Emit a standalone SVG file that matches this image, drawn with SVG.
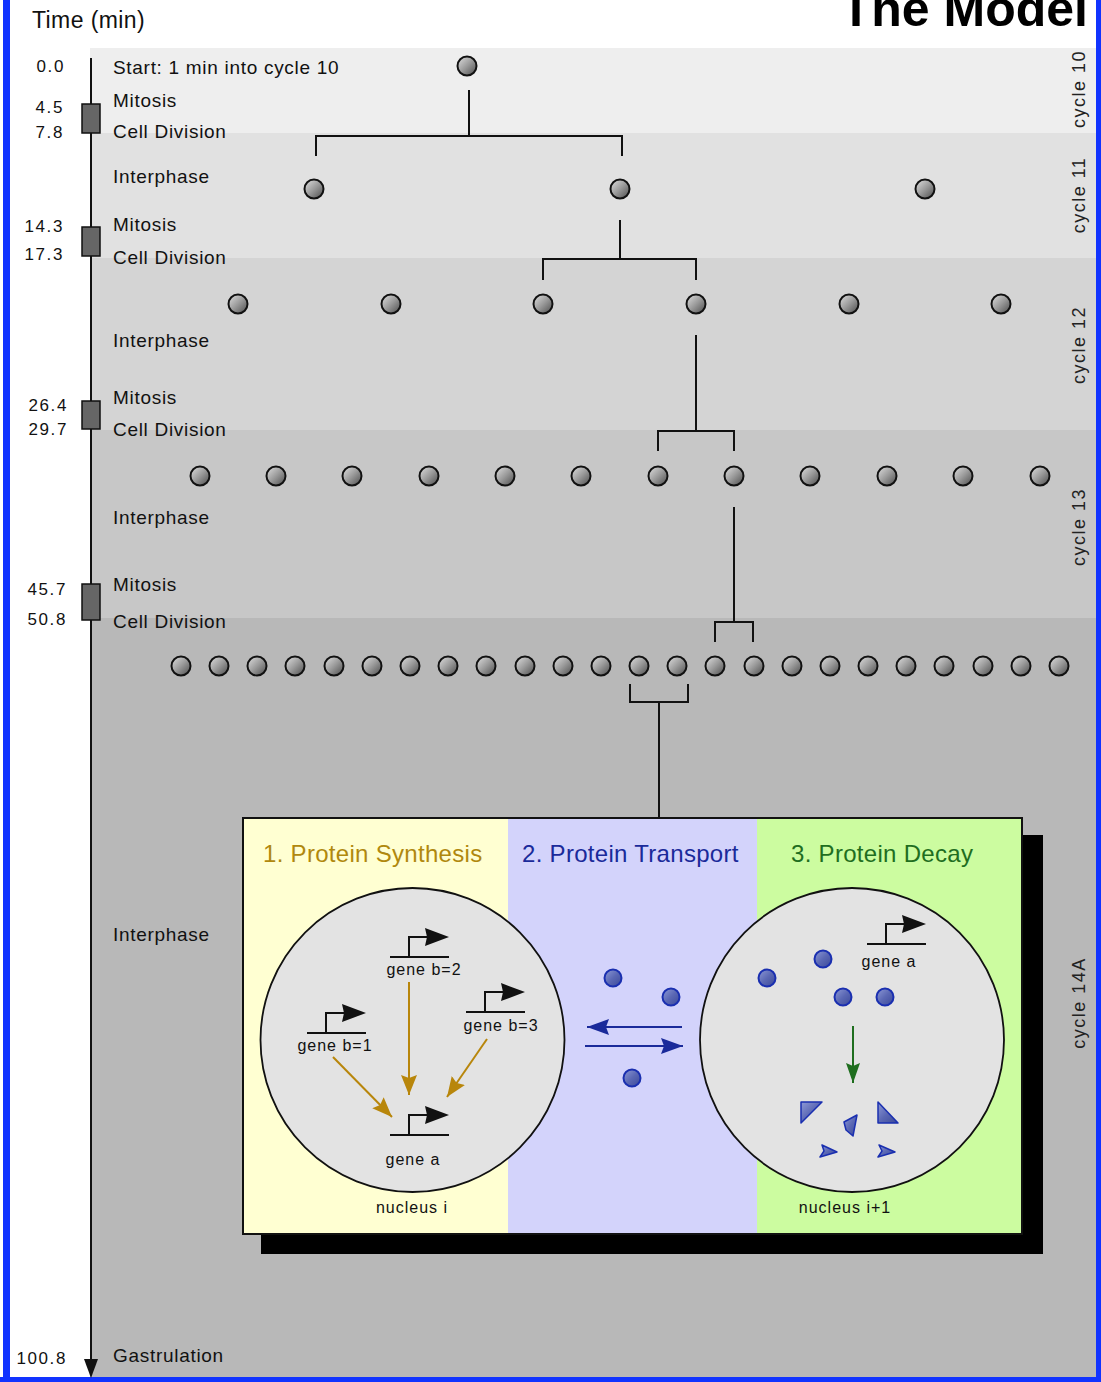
<svg xmlns="http://www.w3.org/2000/svg" xmlns:xlink="http://www.w3.org/1999/xlink" width="1101" height="1382" viewBox="0 0 1101 1382">
  <style>
    .lbl { font-family: "Liberation Sans", Arial, sans-serif; font-size: 19px; letter-spacing: 0.7px; fill: #111; }
    .time { font-family: "Liberation Sans", Arial, sans-serif; font-size: 17px; letter-spacing: 1.6px; fill: #111; text-anchor: end; }
    .cyc { font-family: "Liberation Sans", Arial, sans-serif; font-size: 18px; letter-spacing: 1.5px; fill: #222; text-anchor: middle; }
    .gene { font-family: "Liberation Sans", Arial, sans-serif; font-size: 16px; letter-spacing: 1px; fill: #111; text-anchor: middle; }
    .head { font-family: "Liberation Sans", Arial, sans-serif; font-size: 24px; letter-spacing: 0.3px; }
    .tree { fill: none; stroke: #111; stroke-width: 2; }
    .axbox { fill: #666; stroke: #111; stroke-width: 1.5; }
    .cellc { fill: url(#cellGrad); stroke: #111; stroke-width: 2; }
    .prot { fill: url(#protGrad); stroke: #1a2fb0; stroke-width: 2; }
    .frag { fill: url(#protGrad); stroke: #1a2fb0; stroke-width: 1.5; stroke-linejoin: round; }
    .nuc { fill: #e3e3e3; stroke: #111; stroke-width: 1.8; }
    .gold { stroke: #b8860b; stroke-width: 2; fill: none; }
    .blue { stroke: #1a2a9a; stroke-width: 2; fill: none; }
    .green { stroke: #1f6e1f; stroke-width: 2; fill: none; }
  </style>
  <defs>
    <linearGradient id="cellGrad" x1="0" y1="0" x2="1" y2="1">
      <stop offset="0" stop-color="#e2e2e2"/>
      <stop offset="0.5" stop-color="#9a9a9a"/>
      <stop offset="1" stop-color="#4a4a4a"/>
    </linearGradient>
    <linearGradient id="protGrad" x1="0" y1="0" x2="1" y2="1">
      <stop offset="0" stop-color="#8e9ad6"/>
      <stop offset="0.5" stop-color="#5b68b4"/>
      <stop offset="1" stop-color="#3a4898"/>
    </linearGradient>
    <circle id="cell" r="9.5" class="cellc"/>
    <circle id="prot" r="8.5" class="prot"/>
    <!-- promoter glyph: base line, stem and arrow flag -->
    <g id="promoter">
      <path d="M0,0 H59 M19,0 V-20 H38" fill="none" stroke="#111" stroke-width="2"/>
      <path d="M35,-29 L59,-20 L35,-11 L37,-20 Z" fill="#111"/>
    </g>
    <marker id="goldHead" markerUnits="userSpaceOnUse" markerWidth="22" markerHeight="18" refX="20" refY="9" orient="auto">
      <path d="M0,1 L20,9 L0,17 L3,9 Z" fill="#b8860b"/>
    </marker>
    <marker id="blueHead" markerUnits="userSpaceOnUse" markerWidth="24" markerHeight="18" refX="22" refY="9" orient="auto">
      <path d="M0,1 L22,9 L0,17 L3,9 Z" fill="#1a2a9a"/>
    </marker>
    <marker id="greenHead" markerUnits="userSpaceOnUse" markerWidth="22" markerHeight="18" refX="20" refY="9" orient="auto">
      <path d="M0,2 L20,9 L0,16 L3,9 Z" fill="#1f6e1f"/>
    </marker>
  </defs>

  <!-- page and blue frame -->
  <rect x="0" y="0" width="1101" height="1382" fill="#ffffff"/>
  <rect x="3" y="0" width="7" height="1382" fill="#1133ff"/>
  <rect x="1096" y="0" width="5" height="1382" fill="#1133ff"/>
  <rect x="0" y="1377" width="1101" height="5" fill="#1133ff"/>

  <!-- cycle bands -->
  <g id="bands">
    <rect x="90" y="48" width="1006" height="85" fill="#eeeeee"/>
    <rect x="90" y="133" width="1006" height="125" fill="#e1e1e1"/>
    <rect x="90" y="258" width="1006" height="172" fill="#d4d4d4"/>
    <rect x="90" y="430" width="1006" height="188" fill="#c7c7c7"/>
    <rect x="90" y="618" width="1006" height="759" fill="#b8b8b8"/>
  </g>

  <!-- headings -->
  <text x="32" y="28" font-family="Liberation Sans, Arial, sans-serif" font-size="23" letter-spacing="0.4" fill="#111">Time (min)</text>
  <text x="1088" y="26" font-family="Liberation Sans, Arial, sans-serif" font-size="50" font-weight="bold" fill="#000" text-anchor="end">The Model</text>

  <!-- time axis -->
  <g id="time-axis">
    <line x1="91" y1="58" x2="91" y2="1362" stroke="#111" stroke-width="2"/>
    <path d="M84,1359 L98,1359 L91,1378 Z" fill="#111"/>
    <rect class="axbox" x="82" y="104" width="18" height="29"/>
    <rect class="axbox" x="82" y="227" width="18" height="29"/>
    <rect class="axbox" x="82" y="401" width="18" height="28"/>
    <rect class="axbox" x="82" y="584" width="18" height="36"/>
    <text class="time" x="65" y="72">0.0</text>
    <text class="time" x="64" y="113">4.5</text>
    <text class="time" x="64" y="138">7.8</text>
    <text class="time" x="64" y="232">14.3</text>
    <text class="time" x="64" y="260">17.3</text>
    <text class="time" x="68" y="411">26.4</text>
    <text class="time" x="68" y="435">29.7</text>
    <text class="time" x="67" y="595">45.7</text>
    <text class="time" x="67" y="625">50.8</text>
    <text class="time" x="67" y="1364">100.8</text>
  </g>

  <!-- phase labels -->
  <g id="phase-labels">
    <text class="lbl" x="113" y="74">Start: 1 min into cycle 10</text>
    <text class="lbl" x="113" y="107">Mitosis</text>
    <text class="lbl" x="113" y="138">Cell Division</text>
    <text class="lbl" x="113" y="183">Interphase</text>
    <text class="lbl" x="113" y="231">Mitosis</text>
    <text class="lbl" x="113" y="264">Cell Division</text>
    <text class="lbl" x="113" y="347">Interphase</text>
    <text class="lbl" x="113" y="404">Mitosis</text>
    <text class="lbl" x="113" y="436">Cell Division</text>
    <text class="lbl" x="113" y="524">Interphase</text>
    <text class="lbl" x="113" y="591">Mitosis</text>
    <text class="lbl" x="113" y="628">Cell Division</text>
    <text class="lbl" x="113" y="941">Interphase</text>
    <text class="lbl" x="113" y="1362">Gastrulation</text>
  </g>

  <!-- cycle labels -->
  <g id="cycle-labels">
    <text class="cyc" transform="translate(1085,89) rotate(-90)">cycle 10</text>
    <text class="cyc" transform="translate(1085,195) rotate(-90)">cycle 11</text>
    <text class="cyc" transform="translate(1085,345) rotate(-90)">cycle 12</text>
    <text class="cyc" transform="translate(1085,527) rotate(-90)">cycle 13</text>
    <text class="cyc" transform="translate(1085,1003) rotate(-90)">cycle 14A</text>
  </g>

  <!-- lineage connectors -->
  <g id="connectors" class="tree">
    <path d="M469,90 V136 M316,156 V136 H622 V156"/>
    <path d="M620,220 V259 M543,280 V259 H696 V280"/>
    <path d="M696,335 V431 M658,451 V431 H734 V451"/>
    <path d="M734,507 V622 M715,642 V622 H753 V642"/>
    <path d="M630,684 V702 H688 V684 M659,702 V817"/>
  </g>

  <!-- nuclei, cycle 10 -->
  <g id="c10-1"><use xlink:href="#cell" x="467" y="66"/></g>
  <!-- nuclei, cycle 11 -->
  <g id="c11-1"><use xlink:href="#cell" x="314" y="189"/></g>
  <g id="c11-2"><use xlink:href="#cell" x="620" y="189"/></g>
  <g id="c11-3"><use xlink:href="#cell" x="925" y="189"/></g>
  <!-- nuclei, cycle 12 -->
  <g id="c12-1"><use xlink:href="#cell" x="238" y="304"/></g>
  <g id="c12-2"><use xlink:href="#cell" x="391" y="304"/></g>
  <g id="c12-3"><use xlink:href="#cell" x="543" y="304"/></g>
  <g id="c12-4"><use xlink:href="#cell" x="696" y="304"/></g>
  <g id="c12-5"><use xlink:href="#cell" x="849" y="304"/></g>
  <g id="c12-6"><use xlink:href="#cell" x="1001" y="304"/></g>
  <!-- nuclei, cycle 13 -->
  <g id="c13-1"><use xlink:href="#cell" x="200" y="476"/></g>
  <g id="c13-2"><use xlink:href="#cell" x="276" y="476"/></g>
  <g id="c13-3"><use xlink:href="#cell" x="352" y="476"/></g>
  <g id="c13-4"><use xlink:href="#cell" x="429" y="476"/></g>
  <g id="c13-5"><use xlink:href="#cell" x="505" y="476"/></g>
  <g id="c13-6"><use xlink:href="#cell" x="581" y="476"/></g>
  <g id="c13-7"><use xlink:href="#cell" x="658" y="476"/></g>
  <g id="c13-8"><use xlink:href="#cell" x="734" y="476"/></g>
  <g id="c13-9"><use xlink:href="#cell" x="810" y="476"/></g>
  <g id="c13-10"><use xlink:href="#cell" x="887" y="476"/></g>
  <g id="c13-11"><use xlink:href="#cell" x="963" y="476"/></g>
  <g id="c13-12"><use xlink:href="#cell" x="1040" y="476"/></g>
  <!-- nuclei, cycle 14 -->
  <g id="c14-1"><use xlink:href="#cell" x="181" y="666"/></g>
  <g id="c14-2"><use xlink:href="#cell" x="219" y="666"/></g>
  <g id="c14-3"><use xlink:href="#cell" x="257" y="666"/></g>
  <g id="c14-4"><use xlink:href="#cell" x="295" y="666"/></g>
  <g id="c14-5"><use xlink:href="#cell" x="334" y="666"/></g>
  <g id="c14-6"><use xlink:href="#cell" x="372" y="666"/></g>
  <g id="c14-7"><use xlink:href="#cell" x="410" y="666"/></g>
  <g id="c14-8"><use xlink:href="#cell" x="448" y="666"/></g>
  <g id="c14-9"><use xlink:href="#cell" x="486" y="666"/></g>
  <g id="c14-10"><use xlink:href="#cell" x="525" y="666"/></g>
  <g id="c14-11"><use xlink:href="#cell" x="563" y="666"/></g>
  <g id="c14-12"><use xlink:href="#cell" x="601" y="666"/></g>
  <g id="c14-13"><use xlink:href="#cell" x="639" y="666"/></g>
  <g id="c14-14"><use xlink:href="#cell" x="677" y="666"/></g>
  <g id="c14-15"><use xlink:href="#cell" x="715" y="666"/></g>
  <g id="c14-16"><use xlink:href="#cell" x="754" y="666"/></g>
  <g id="c14-17"><use xlink:href="#cell" x="792" y="666"/></g>
  <g id="c14-18"><use xlink:href="#cell" x="830" y="666"/></g>
  <g id="c14-19"><use xlink:href="#cell" x="868" y="666"/></g>
  <g id="c14-20"><use xlink:href="#cell" x="906" y="666"/></g>
  <g id="c14-21"><use xlink:href="#cell" x="944" y="666"/></g>
  <g id="c14-22"><use xlink:href="#cell" x="983" y="666"/></g>
  <g id="c14-23"><use xlink:href="#cell" x="1021" y="666"/></g>
  <g id="c14-24"><use xlink:href="#cell" x="1059" y="666"/></g>

  <!-- model panel: synthesis, transport, decay -->
  <g id="model-panel">
    <rect x="261" y="835" width="782" height="419" fill="#000"/>
    <rect x="243" y="818" width="265" height="416" fill="#ffffd2"/>
    <rect x="508" y="818" width="249" height="416" fill="#d3d3fb"/>
    <rect x="757" y="818" width="265" height="416" fill="#ccfca0"/>
    <rect x="243" y="818" width="779" height="416" fill="none" stroke="#111" stroke-width="2"/>
    <text class="head" x="263" y="862" fill="#b0880e">1. Protein Synthesis</text>
    <text class="head" x="522" y="862" fill="#1a2a9a">2. Protein Transport</text>
    <text class="head" x="791" y="862" fill="#1f6e1f">3. Protein Decay</text>
  </g>

  <!-- nucleus i -->
  <g id="nucleus-i">
    <circle class="nuc" cx="412.5" cy="1040" r="152"/>
    <use xlink:href="#promoter" transform="translate(390,957)"/>
    <use xlink:href="#promoter" transform="translate(466,1012)"/>
    <use xlink:href="#promoter" transform="translate(307,1033)"/>
    <use xlink:href="#promoter" transform="translate(390,1135)"/>
    <text class="gene" x="424" y="975">gene b=2</text>
    <text class="gene" x="501" y="1031">gene b=3</text>
    <text class="gene" x="335" y="1051">gene b=1</text>
    <text class="gene" x="413" y="1165">gene a</text>
    <text class="gene" x="412" y="1213">nucleus i</text>
  </g>

  <!-- nucleus i+1 -->
  <g id="nucleus-i1">
    <circle class="nuc" cx="852" cy="1040" r="152"/>
    <use xlink:href="#promoter" transform="translate(867,944)"/>
    <text class="gene" x="889" y="967">gene a</text>
    <text class="gene" x="845" y="1213">nucleus i+1</text>
  </g>

  <!-- process arrows inside the model panel -->
  <g id="process-arrows">
    <!-- regulation of gene a by genes b -->
    <line class="gold" x1="409" y1="982" x2="409" y2="1095" marker-end="url(#goldHead)"/>
    <line class="gold" x1="333" y1="1057" x2="392" y2="1117" marker-end="url(#goldHead)"/>
    <line class="gold" x1="487" y1="1039" x2="447" y2="1097" marker-end="url(#goldHead)"/>
    <!-- transport between nuclei -->
    <line class="blue" x1="682" y1="1027" x2="587" y2="1027" marker-end="url(#blueHead)"/>
    <line class="blue" x1="585" y1="1046" x2="683" y2="1046" marker-end="url(#blueHead)"/>
    <!-- decay -->
    <line class="green" x1="853" y1="1026" x2="853" y2="1083" marker-end="url(#greenHead)"/>
  </g>

  <!-- protein molecules -->
  <g id="proteins">
    <use xlink:href="#prot" x="613" y="978"/>
    <use xlink:href="#prot" x="671" y="997"/>
    <use xlink:href="#prot" x="632" y="1078"/>
    <use xlink:href="#prot" x="823" y="959"/>
    <use xlink:href="#prot" x="767" y="978"/>
    <use xlink:href="#prot" x="843" y="997"/>
    <use xlink:href="#prot" x="885" y="997"/>
  </g>

  <!-- degraded fragments -->
  <g id="fragments">
    <polygon class="frag" points="801,1102 822,1102 801,1123"/>
    <polygon class="frag" points="878,1102 898,1123 878,1123"/>
    <polygon class="frag" points="844,1122 857,1115 853,1136 846,1130"/>
    <polygon class="frag" points="822,1145 837,1152 820,1157 824,1151"/>
    <polygon class="frag" points="879,1145 895,1152 878,1157 882,1151"/>
  </g>
</svg>
